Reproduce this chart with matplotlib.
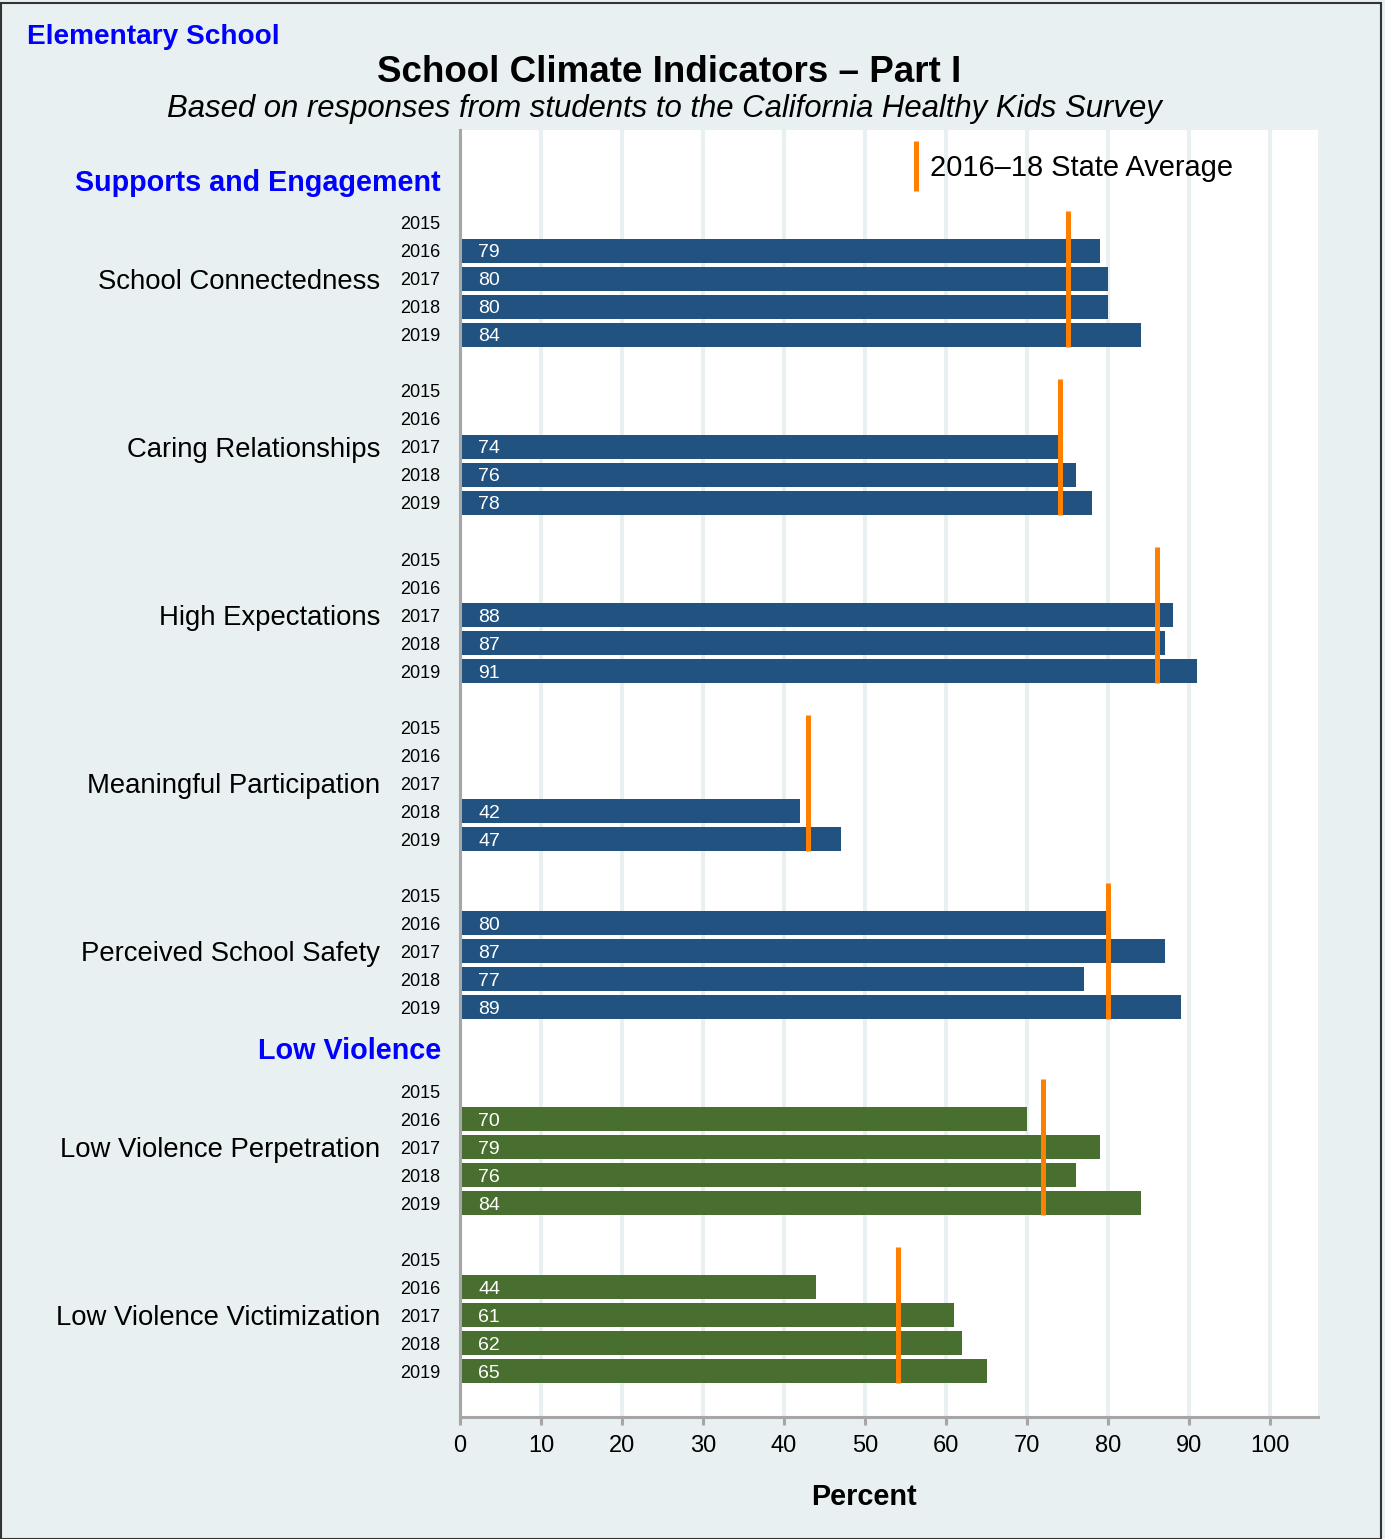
import matplotlib
matplotlib.use("Agg")
import matplotlib.pyplot as plt
from matplotlib.lines import Line2D
from matplotlib.patches import Rectangle

plt.rcParams['font.family'] = ['Liberation Sans', 'DejaVu Sans']

# dados
secoes = ["Supports and Engagement", "Low Violence"]
indicadores = ["School Connectedness", "Caring Relationships", "High Expectations",
               "Meaningful Participation", "Perceived School Safety",
               "Low Violence Perpetration", "Low Violence Victimization"]
secao_do_indicador = [0, 0, 0, 0, 0, 1, 1]
anos = ["2015", "2016", "2017", "2018", "2019"]
valores = [
    [None, 79, 80, 80, 84],
    [None, None, 74, 76, 78],
    [None, None, 88, 87, 91],
    [None, None, None, 42, 47],
    [None, 80, 87, 77, 89],
    [None, 70, 79, 76, 84],
    [None, 44, 61, 62, 65],
]
media_estadual = [75, 74, 86, 43, 80, 72, 54]

COR_FUNDO = "#e8f0f2"
COR_SECAO = ["#215280", "#486e30"]
COR_MEDIA = "#ff7f00"
AZUL = "#0000ff"
CINZA = "#a6a6a6"

fig = plt.figure(figsize=(13.85, 15.39), dpi=100)
fig.patch.set_facecolor(COR_FUNDO)
ax = fig.add_axes([460/1385, 1 - 1417/1539, 858/1385, 1287/1539])
ax.set_facecolor("white")

ytrans = ax.get_yaxis_transform()
linhas = []
rotulos = []
linha = 0
secao_atual = None
for i, nome in enumerate(indicadores):
    s = secao_do_indicador[i]
    if secao_atual is not None and s != secao_atual:
        linha += 1
    if s != secao_atual:
        ax.text(-0.0221, linha - 1.55, secoes[s], transform=ytrans, ha="right",
                va="center_baseline", fontsize=20.7, fontweight="bold", color=AZUL)
        secao_atual = s
    pos = [linha + k for k in range(len(anos))]
    for p, ano, v in zip(pos, anos, valores[i]):
        linhas.append(p)
        rotulos.append(ano)
        if v is None:
            continue
        ax.barh(p, v, height=0.86, color=COR_SECAO[s], zorder=2)
        ax.annotate(str(v), xy=(0, p), xytext=(13, 0), textcoords="offset points",
                    ha="left", va="center_baseline", color="white", fontsize=14, zorder=4)
    ax.vlines(media_estadual[i], pos[0] - 0.43, pos[-1] + 0.43, color=COR_MEDIA,
              linewidth=3.6, zorder=3)
    ax.text(-0.093, pos[2], nome, transform=ytrans, ha="right", va="center_baseline",
            fontsize=19.8)
    linha += 6

ax.set_ylim(linhas[-1] + 1.64, -3.32)
ax.set_xlim(0, 105.9)
ax.set_yticks(linhas, labels=rotulos)
ax.tick_params(axis="y", length=0, pad=14, labelsize=13)
ax.set_xticks(range(0, 101, 10))
ax.tick_params(axis="x", length=6, width=2.2, color=CINZA, labelsize=17, pad=7)
ax.grid(axis="x", color=COR_FUNDO, linewidth=2.9, zorder=0)
ax.set_axisbelow(True)
for lado in ["top", "right"]:
    ax.spines[lado].set_visible(False)
for lado in ["left", "bottom"]:
    ax.spines[lado].set_color(CINZA)
    ax.spines[lado].set_linewidth(2.2)

ax.text(0.471, -0.0598, "Percent", transform=ax.transAxes, ha="center",
        va="center_baseline", fontsize=20.8, fontweight="bold")

legenda = [Line2D([], [], color=COR_MEDIA, marker="|", linestyle="None",
                  markersize=36, markeredgewidth=3.6)]
ax.legend(legenda, ["2016\u201318 State Average"], loc="upper left",
          bbox_to_anchor=(0.514, 0.981), frameon=False, fontsize=20.9,
          handlelength=1.0, handletextpad=0.0, borderpad=0, borderaxespad=0)

fig.text(27/1385, 1 - 34/1539, "Elementary School", ha="left", va="center_baseline",
         fontsize=20.2, fontweight="bold", color=AZUL)
fig.text(669/1385, 1 - 69/1539, "School Climate Indicators \u2013 Part I", ha="center",
         va="center_baseline", fontsize=26.5, fontweight="bold")
fig.text(664/1385, 1 - 105/1539,
         "Based on responses from students to the California Healthy Kids Survey",
         ha="center", va="center_baseline", fontsize=22.4, style="italic")

fig.patches.append(Rectangle((0.001, 0.0), 0.996, 0.998, transform=fig.transFigure,
                             fill=False, edgecolor="#333333", linewidth=1.5))

fig.savefig("out.png", dpi=100, facecolor=COR_FUNDO)
